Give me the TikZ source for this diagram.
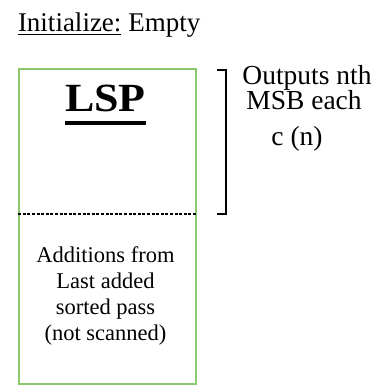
\documentclass[tikz,border=0pt]{standalone}
\usepackage{fontspec}
\setmainfont{Liberation Serif}
\definecolor{boxgreen}{HTML}{8CC86E}
\begin{document}
\begin{tikzpicture}[x=1pt,y=1pt,
  plain/.style={inner sep=0pt, outer sep=0pt},
  listbox/.style={draw=boxgreen, line width=1.6pt, minimum width=177pt,
    minimum height=315pt, inner sep=0pt},
  divider/.style={line width=1.2pt, dash pattern=on 3pt off 1.6pt},
  brace/.style={line width=1.2pt},
  ruleline/.style={line width=#1},
  notefont/.style={font=\fontsize{27.5}{31}\selectfont}]
\useasboundingbox (0,0) rectangle (388,385);

% heading
\node[plain, anchor=base west, font=\fontsize{27}{31}\selectfont] (init) at (18,353) {Initialize:};
\node[plain, anchor=base west, font=\fontsize{27}{31}\selectfont] (empty) at ([xshift=6.8pt]init.base east) {Empty};
\draw[ruleline=1pt] ([yshift=-3pt]init.base west) -- ([yshift=-3pt]init.base east);

% the list box
\node[listbox] (lspbox) at (107.5,158.5) {};
\coordinate (divL) at (lspbox.west |- 0,171);
\coordinate (divR) at (lspbox.east |- 0,171);
\draw[divider] (divL) -- (divR);

% title of the list
\node[plain, anchor=base, font=\bfseries\fontsize{40}{44}\selectfont] (lsp) at (105.5,273) {\scalebox{1.1}[1]{LSP}};
\draw[ruleline=3.5pt] ([yshift=-11pt]lsp.base west) -- ([yshift=-11pt]lsp.base east);

% lower part
\node[plain, align=center, font=\fontsize{22.5}{26}\selectfont] (adds) at (105.5,89)
  {Additions from\\Last added\\sorted pass\\(not scanned)};

% bracket spanning the upper part
\coordinate (bt0) at (217,315);
\coordinate (bt1) at (226,315);
\coordinate (bb1) at (226,171);
\coordinate (bb0) at (217,171);
\draw[brace] (bt0) -- (bt1) -- (bb1) -- (bb0);

% bracket note
\node[plain, anchor=base, notefont] (out1) at (307,300) {Outputs nth};
\node[plain, anchor=base, notefont] (out2) at (304,275) {MSB each};
\node[plain, anchor=base, notefont] (out3) at (297,239) {c (n)};
\end{tikzpicture}
\end{document}
